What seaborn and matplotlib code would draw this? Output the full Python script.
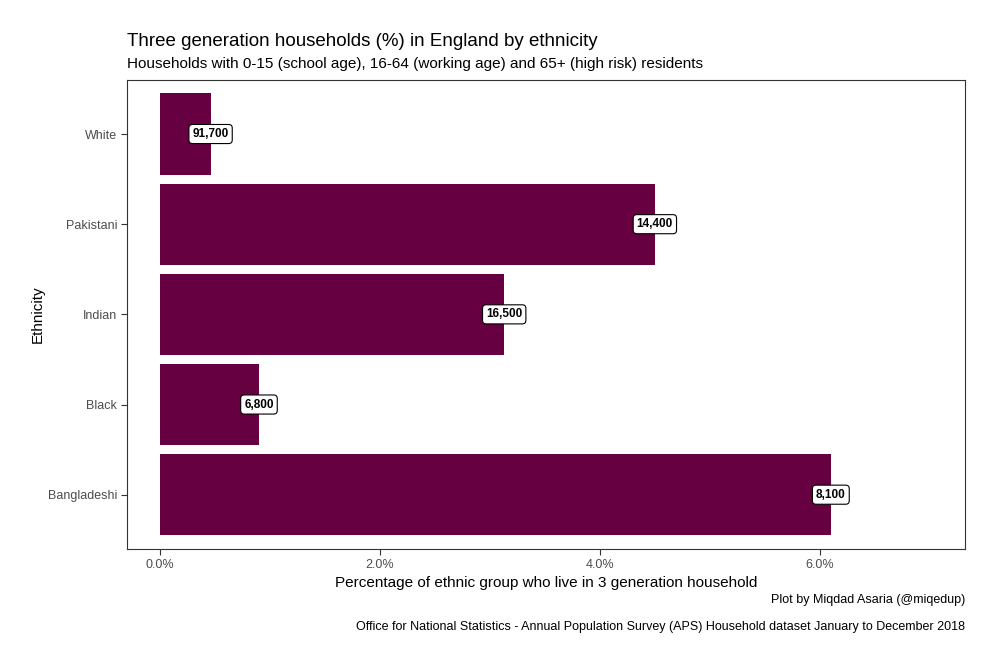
import matplotlib
matplotlib.use("Agg")
import matplotlib.pyplot as plt
import seaborn as sns
import pandas as pd
from matplotlib.ticker import FuncFormatter

ethnicity = ["White", "Pakistani", "Indian", "Black", "Bangladeshi"]
pct = [0.46, 4.50, 3.13, 0.90, 6.10]
households = ["91,700", "14,400", "16,500", "6,800", "8,100"]
xticks = [0, 2, 4, 6]

df = pd.DataFrame({"Ethnicity": ethnicity, "pct": pct, "hh": households})

sns.set_theme(style="white")
plt.rcParams["font.family"] = ["Liberation Sans", "DejaVu Sans"]

fig = plt.figure(figsize=(10, 6.66), dpi=100)
ax = fig.add_axes([0.127, 0.176, 0.838, 0.704])

sns.barplot(data=df, x="pct", y="Ethnicity", order=ethnicity, color="#660040",
            saturation=1, width=0.9, ax=ax, orient="h", linewidth=0)

for i, row in df.iterrows():
    ax.text(row["pct"], i, row["hh"], ha="center", va="center", fontsize=8.5,
            fontweight="bold", color="black",
            bbox=dict(boxstyle="round,pad=0.3,rounding_size=0.3", fc="white", ec="black", lw=0.8))

ax.set_xlim(-0.3, 7.32)
ax.set_ylim(4.6, -0.6)
ax.set_xticks(xticks)
ax.xaxis.set_major_formatter(FuncFormatter(lambda v, p: f"{v:.1f}%"))
ax.tick_params(axis="both", which="both", length=4, width=0.8, color="#333333",
               labelsize=9, labelcolor="#4D4D4D", bottom=True, left=True, pad=3)
for s in ax.spines.values():
    s.set_visible(True)
    s.set_color("#333333")
    s.set_linewidth(0.8)
ax.set_xlabel("Percentage of ethnic group who live in 3 generation household", fontsize=11, labelpad=4, color="black")
ax.set_ylabel("Ethnicity", fontsize=11, labelpad=2, color="black")
ax.grid(False)

fig.text(0.127, 0.925, "Three generation households (%) in England by ethnicity", fontsize=13.5, ha="left", va="bottom", color="black")
fig.text(0.127, 0.894, "Households with 0-15 (school age), 16-64 (working age) and 65+ (high risk) residents", fontsize=11, ha="left", va="bottom", color="black")
fig.text(0.965, 0.099, "Plot by Miqdad Asaria (@miqedup)", fontsize=9, ha="right", va="center", color="black")
fig.text(0.965, 0.058, "Office for National Statistics - Annual Population Survey (APS) Household dataset January to December 2018", fontsize=9, ha="right", va="center", color="black")

fig.savefig("out.png", dpi=100, facecolor="white")
